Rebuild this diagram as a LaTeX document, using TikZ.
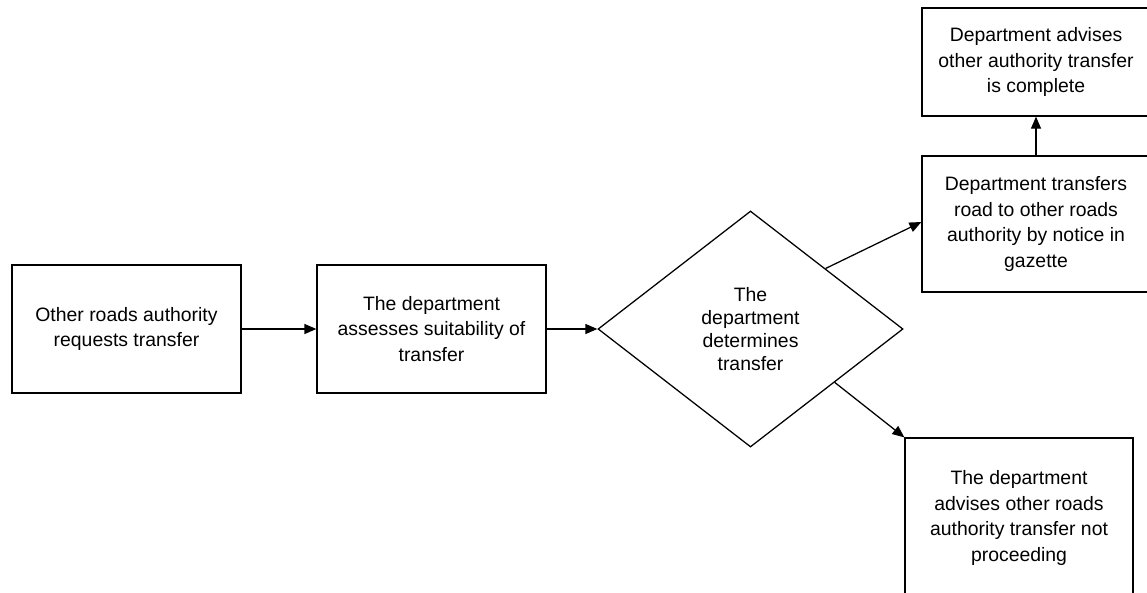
\documentclass[tikz,border=0pt]{standalone}
\usepackage{fontspec}
\setmainfont{Liberation Sans}
\usepackage{tikz}
\usetikzlibrary{shapes.geometric,arrows.meta,positioning,calc}

\tikzset{
    procbox/.style={rectangle, draw=black, line width=0.9pt, align=center, inner sep=2pt,
        font=\fontsize{13.8}{18.1}\selectfont},
    decision/.style={diamond, draw=black, line width=0.9pt, align=center, inner sep=0pt,
        minimum width=7.625cm, minimum height=5.9cm, font=\fontsize{13.8}{16.3}\selectfont},
    flow/.style={-{Triangle[length=0.3cm,width=0.25cm]}, line width=0.9pt}
}

\begin{document}
\begin{tikzpicture}
    \useasboundingbox (0,0) rectangle (28.675,-14.8);

    \node[procbox, minimum width=5.725cm, minimum height=3.2cm] (request) at (3.1625,-8.225) {Other roads authority\\requests transfer};
    \node[procbox, minimum width=5.725cm, minimum height=3.2cm] (assess) at (10.7875,-8.225) {The department\\assesses suitability of\\transfer};
    \node[decision] (decide) at (18.7625,-8.225) {The\\department\\determines\\transfer};
    \node[procbox, minimum width=5.7cm, minimum height=3.4cm] (transfer) at (25.9,-5.6) {Department transfers\\road to other roads\\authority by notice in\\gazette};
    \node[procbox, minimum width=5.7cm, minimum height=2.7cm] (complete) at (25.9,-1.55) {Department advises\\other authority transfer\\is complete};
    \node[procbox, minimum width=5.7cm, minimum height=4.0cm] (decline) at (25.475,-12.95) {The department\\advises other roads\\authority transfer not\\proceeding};

    \draw[flow] (request) -- (assess);
    \draw[flow] (assess) -- (decide);
    \draw[flow] ($(decide.north)!0.49!(decide.east)$) -- ($(transfer.west)+(0,0.05)$);
    \draw[flow] ($(decide.south)!0.55!(decide.east)$) -- (decline.north west);
    \draw[flow] (transfer) -- (complete);
\end{tikzpicture}
\end{document}
